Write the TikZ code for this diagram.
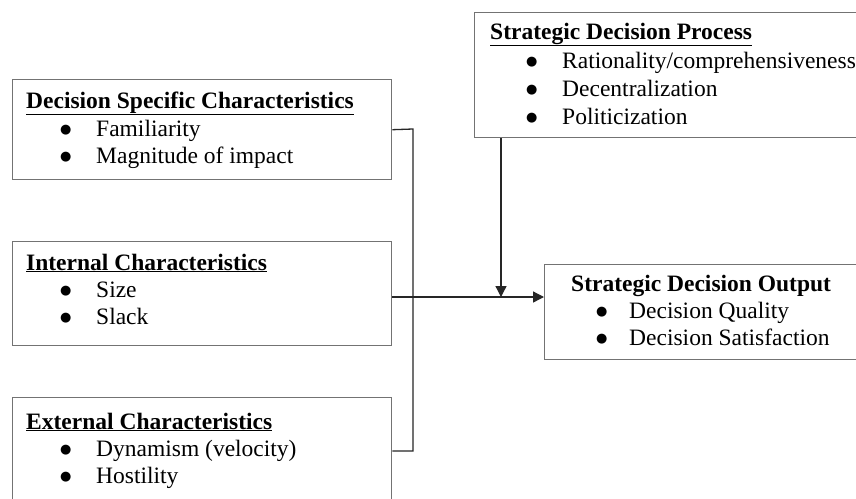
\documentclass[tikz,border=0pt]{standalone}
\usepackage{fontspec}
\setmainfont{Liberation Serif}
\newfontfamily\dejavu{DejaVu Sans}
\usetikzlibrary{arrows.meta}
\newcommand{\btitle}[1]{\textbf{\underline{#1}}}
\newcommand{\bitem}[2]{\makebox[#1][l]{\raisebox{3pt}{\dejavu\fontsize{13}{13}\selectfont ●}}#2}
\tikzset{
  box/.style={draw=black!55, line width=1.4pt, rectangle, inner sep=0pt, anchor=north west},
  txt/.style={anchor=base west, inner sep=0pt, font=\fontsize{23.5}{27}\selectfont},
  conn/.style={draw=black!85, line width=1.3pt},
  arr/.style={conn, -{Triangle[length=11pt,width=11pt]}}
}
\begin{document}
\begin{tikzpicture}[x=1pt,y=-1pt]
\clip (0,0) rectangle (856,498);
\fill[white] (0,0) rectangle (856,498);
% boxes
\node[box, minimum width=379pt, minimum height=100pt] (dsc) at (12,79) {};
\node[box, minimum width=379pt, minimum height=104pt] (int) at (12,241) {};
\node[box, minimum width=379pt, minimum height=140pt] (ext) at (12,397) {};
\node[box, minimum width=400pt, minimum height=125pt] (proc) at (474,12) {};
\node[box, minimum width=340pt, minimum height=95pt] (out) at (544,264) {};
% texts
\node[txt] (t1) at (26,108) {\btitle{Decision Specific Characteristics}};
\node[txt] (t1a) at (60,136) {\bitem{36pt}{Familiarity}};
\node[txt] (t1b) at (60,163) {\bitem{36pt}{Magnitude of impact}};
\node[txt] (t2) at (26,270) {\btitle{Internal Characteristics}};
\node[txt] (t2a) at (60,297) {\bitem{36pt}{Size}};
\node[txt] (t2b) at (60,324) {\bitem{36pt}{Slack}};
\node[txt] (t3) at (26,429) {\btitle{External Characteristics}};
\node[txt] (t3a) at (60,456) {\bitem{36pt}{Dynamism (velocity)}};
\node[txt] (t3b) at (60,483) {\bitem{36pt}{Hostility}};
\node[txt] (t4) at (490,39) {\btitle{Strategic Decision Process}};
\node[txt] (t4a) at (526,68) {\bitem{36pt}{Rationality/comprehensiveness}};
\node[txt] (t4b) at (526,96) {\bitem{36pt}{Decentralization}};
\node[txt] (t4c) at (526,124) {\bitem{36pt}{Politicization}};
\node[txt] (t5) at (571,291) {\textbf{Strategic Decision Output}};
\node[txt] (t5a) at (596,318) {\bitem{33pt}{Decision Quality}};
\node[txt] (t5b) at (596,345) {\bitem{33pt}{Decision Satisfaction}};
% connectors
\coordinate (jt) at (413,129);
\coordinate (jb) at (413,451);
\coordinate (jm) at (413,297);
\coordinate (pm) at (501,297);
\draw[conn] (dsc.east) -- (jt) -- (jb) -- (ext.east |- jb);
\draw[arr] (int.east |- jm) -- (out.west |- jm);
\draw[arr] (proc.south -| pm) -- (pm);
\end{tikzpicture}
\end{document}
